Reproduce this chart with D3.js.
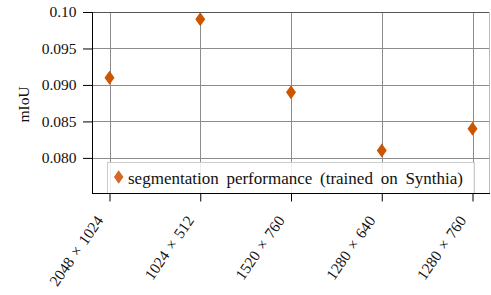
<!DOCTYPE html>
<html><head><meta charset="utf-8">
<script src="https://cdn.jsdelivr.net/npm/d3@7"></script>
<style>body{margin:0;background:#fff}svg{display:block}svg text{font-family:"Liberation Serif","Times New Roman",Times,"DejaVu Serif",serif !important}</style>
</head><body><svg id="c" width="491" height="295"></svg>
<script>
const categories = ["2048 × 1024", "1024 × 512", "1520 × 760", "1280 × 640", "1280 × 760"];
const values = [0.091, 0.099, 0.089, 0.081, 0.084];
const yTicks = [0.080, 0.085, 0.090, 0.095, 0.100];
const yTickLabels = ["0.080", "0.085", "0.090", "0.095", "0.10"];
const seriesName = "segmentation performance (trained on Synthia)";

const svg = d3.select("#c");
const L = 92, R = 489, T = 12, B = 193.5;
const x = d3.scalePoint().domain(categories).range([L + 17.5, R - 16.5]);
const y = d3.scaleLinear().domain([0.07512, 0.1]).range([B, T]);
const color = "#cc5500";
const FS = 15.5;

// grid
svg.append("g").selectAll("line").data(yTicks).join("line")
  .attr("x1", L).attr("x2", R).attr("y1", d => Math.round(y(d)) + 0.5).attr("y2", d => Math.round(y(d)) + 0.5)
  .attr("stroke", "#8c8c8c").attr("stroke-width", 1);
svg.append("g").selectAll("line").data(categories).join("line")
  .attr("y1", T).attr("y2", B).attr("x1", d => Math.round(x(d)) + 0.5).attr("x2", d => Math.round(x(d)) + 0.5)
  .attr("stroke", "#8c8c8c").attr("stroke-width", 1);
svg.append("line").attr("x1", L).attr("x2", R).attr("y1", T + 0.5).attr("y2", T + 0.5).attr("stroke", "#555");
svg.append("line").attr("x1", R + 0.5).attr("x2", R + 0.5).attr("y1", T).attr("y2", B).attr("stroke", "#bbb");

function diamond(w, h) { return `M0,${-h/2}L${w/2},0L0,${h/2}L${-w/2},0Z`; }
svg.append("g").selectAll("path").data(values).join("path")
  .attr("d", diamond(10, 14))
  .attr("transform", (d, i) => `translate(${x(categories[i])},${y(d)})`)
  .attr("fill", color);

// legend
const lg = svg.append("g");
lg.append("rect").attr("x", 107.5).attr("y", 162.5).attr("width", 367).attr("height", 31)
  .attr("fill", "rgba(255,255,255,0.85)").attr("stroke", "#ccc");
lg.append("path").attr("d", diamond(9.5, 13.5)).attr("transform", "translate(118.7,177)").attr("fill", "#d46a2a");
lg.append("text").attr("x", 128).attr("y", 183.5).attr("font-size", 17).attr("word-spacing", 3.5)
  .attr("fill", "#111").text(seriesName);

// axes
const yAxis = d3.axisLeft(y).tickValues(yTicks).tickFormat((d, i) => yTickLabels[i]).tickSize(9.5).tickPadding(6.5);
const gy = svg.append("g").attr("transform", `translate(${L + 0.5},0)`).call(yAxis);
gy.attr("font-family", null);
gy.select(".domain").attr("d", `M0,${T}V${B}`).attr("stroke", "#000");
gy.selectAll(".tick line").attr("stroke", "#000");
gy.selectAll("text").attr("font-size", FS).attr("fill", "#111");

const xAxis = d3.axisBottom(x).tickSize(8).tickPadding(4);
const gx = svg.append("g").attr("transform", `translate(0,${B})`).call(xAxis);
gx.attr("font-family", null);
gx.select(".domain").attr("d", `M${L},0H${R + 1}`).attr("stroke", "#000");
gx.selectAll(".tick line").attr("stroke", "#000");
gx.selectAll("text").attr("font-size", FS).attr("fill", "#111").attr("word-spacing", 1.5)
  .attr("text-anchor", "end").attr("dy", 0).attr("y", 0)
  .attr("transform", "translate(-6,27) rotate(-55)");

svg.append("text").attr("transform", `translate(29,104.5) rotate(-90)`)
  .attr("text-anchor", "middle").attr("font-size", FS).attr("fill", "#111").text("mIoU");
</script></body></html>
